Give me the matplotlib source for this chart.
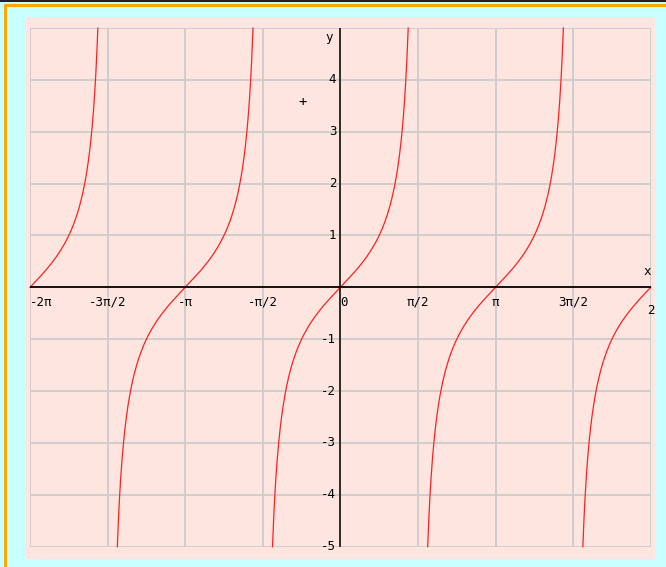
import numpy as np
import matplotlib
matplotlib.use('Agg')
import matplotlib.pyplot as plt
from matplotlib.patches import Rectangle

# graph of y = tan(x), shown on [-2pi, 2pi] x [-5, 5]
x_min, x_max = -2 * np.pi, 2 * np.pi
y_min, y_max = -5, 5
branch_centres = [-2 * np.pi, -np.pi, 0, np.pi, 2 * np.pi]

x_ticks = [-2 * np.pi, -1.5 * np.pi, -np.pi, -0.5 * np.pi, 0, 0.5 * np.pi, np.pi, 1.5 * np.pi, 2 * np.pi]
x_labels = ['-2π', '-3π/2', '-π', '-π/2', '0', 'π/2', 'π', '3π/2', '2']
y_ticks = [-5, -4, -3, -2, -1, 1, 2, 3, 4]
y_labels = ['-5', '-4', '-3', '-2', '-1', '1', '2', '3', '4']

W, H = 666, 567
fig = plt.figure(figsize=(W / 100, H / 100), dpi=100)
fig.patch.set_facecolor('#c8ffff')

def px(x0, y0, x1, y1):
    # rectangle in figure fraction from pixel coords (top-left origin)
    return [x0 / W, 1 - y1 / H, (x1 - x0) / W, (y1 - y0) / H]

def band(x0, y0, x1, y1, color):
    r = px(x0, y0, x1, y1)
    fig.add_artist(Rectangle((r[0], r[1]), r[2], r[3], transform=fig.transFigure,
                             color=color, lw=0, zorder=-5))

# frame decorations
band(0, 0, 666, 1.5, '#202020')
band(4, 4, 666, 6.5, '#ffa500')
band(4, 4, 6.5, 567, '#ffa500')
band(25, 17, 655, 559, '#ffe5df')

ax = fig.add_axes(px(30, 28, 650.7, 546.7))
ax.set_zorder(2)
ax.set_facecolor('none')
ax.set_xlim(x_min, x_max)
ax.set_ylim(y_min, y_max)
for s in ax.spines.values():
    s.set_visible(False)
ax.set_xticks([])
ax.set_yticks([])

grid_c = '#cccccc'
for xv in x_ticks:
    ax.plot([xv, xv], [y_min, y_max], color=grid_c, lw=1.3, zorder=1)
for yv in y_ticks + [5]:
    ax.plot([x_min, x_max], [yv, yv], color=grid_c, lw=1.3, zorder=1)

# tan branches, each one cut where |tan x| reaches 5
half = np.arctan(y_max)
for c in branch_centres:
    a, b = max(c - half, x_min), min(c + half, x_max)
    if b <= a:
        continue
    xs = np.linspace(a, b, 600)
    ax.plot(xs, np.clip(np.tan(xs), y_min, y_max), color='#ff2020', lw=0.9,
            zorder=3, clip_on=False)

# axes through the origin
ax.plot([x_min, x_max], [0, 0], color='black', lw=1.3, zorder=4)
ax.plot([0, 0], [y_min, y_max], color='black', lw=1.1, zorder=4)

font = dict(family='DejaVu Sans Mono', fontsize=9, color='black')
for xv, lab in zip(x_ticks, x_labels):
    ha = 'center'
    dy = -15
    if lab in ('-2π', '0'):
        ha = 'left'
    if lab == '2':
        dy = -23
    ax.annotate(lab, (xv, 0), xytext=(0, dy), textcoords='offset pixels',
                ha=ha, va='center', zorder=5, annotation_clip=False, **font)
for yv, lab in zip(y_ticks, y_labels):
    ax.annotate(lab, (0, yv), xytext=(-4, 0), textcoords='offset pixels',
                ha='right', va='center', zorder=5, annotation_clip=False, **font)

ax.annotate('x', (x_max, 0), xytext=(-3, 16), textcoords='offset pixels',
            ha='center', va='center', annotation_clip=False, **font)
ax.annotate('y', (0, y_max), xytext=(-11, -10), textcoords='offset pixels',
            ha='center', va='center', annotation_clip=False, **font)
fig.text(303 / W, 1 - 102 / H, '+', ha='center', va='center',
         family='DejaVu Sans Mono', fontsize=10)

fig.savefig('out.png', dpi=100)
